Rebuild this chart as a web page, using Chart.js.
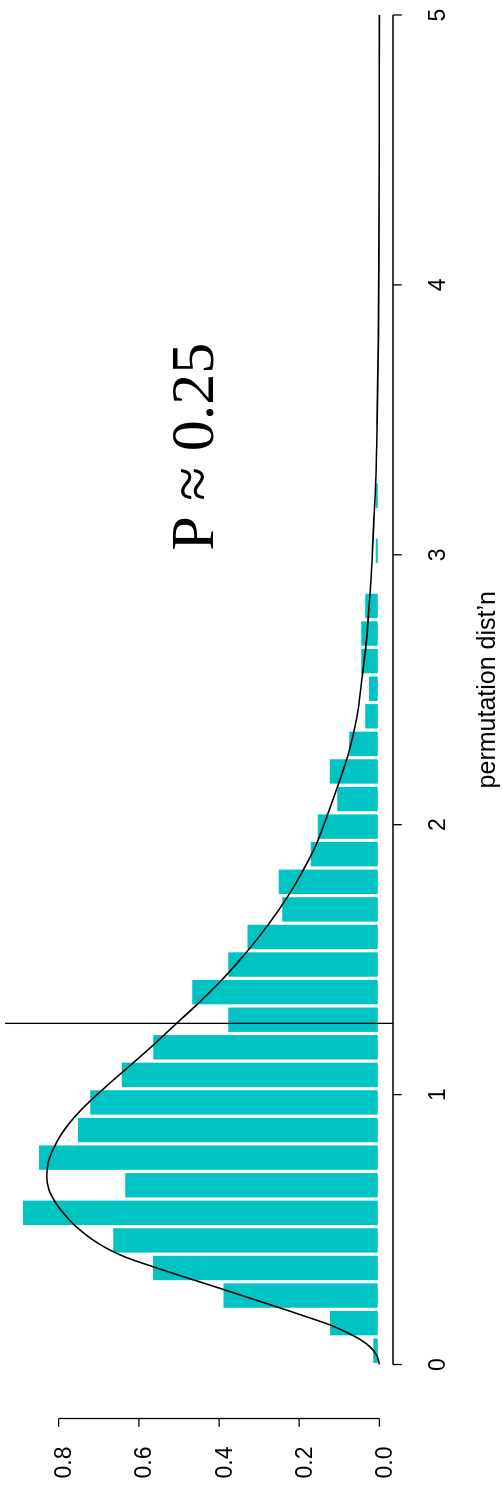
<!DOCTYPE html>
<html>
<head>
<meta charset="utf-8">
<script src="https://cdn.jsdelivr.net/npm/chart.js@4/dist/chart.umd.min.js"></script>
<style>
  html, body { margin: 0; padding: 0; background: #fff; overflow: hidden; width: 503px; height: 1497px; }
  /* the plot is laid out landscape and turned a quarter turn counter-clockwise */
  #frame { position: absolute; left: 0; top: 0; width: 1546px; height: 503px;
           transform-origin: 0 0; transform: translate(0px, 1497px) rotate(-90deg); }
  canvas { display: block; }
</style>
</head>
<body>
<div id="frame"><canvas id="c" width="1546" height="503"></canvas></div>
<script>
// permutation distribution, histogram on the density scale
const binStart = 0;
const binWidth = 0.1022;
const binDensity = [
  0.019, 0.127, 0.393, 0.569, 0.668, 0.893, 0.638, 0.853, 0.756, 0.725,
  0.647, 0.568, 0.381, 0.471, 0.381, 0.333, 0.246, 0.255, 0.175, 0.158,
  0.109, 0.128, 0.079, 0.039, 0.030, 0.049, 0.049, 0.039, 0, 0.013,
  0, 0.013
];

// reference density curve
const curveX = [0, 0.034, 0.065, 0.093, 0.121, 0.146, 0.17, 0.2, 0.278, 0.362,
  0.4, 0.43, 0.46, 0.49, 0.52, 0.56, 0.6, 0.65, 0.7, 0.75,
  0.8, 0.85, 0.9, 0.97, 1.03, 1.1, 1.165, 1.264, 1.338, 1.436,
  1.523, 1.634, 1.745, 1.832, 1.931, 2.029, 2.125, 2.264, 2.4, 2.536,
  2.672, 2.78, 2.906, 3.092, 3.277, 3.5, 3.8, 4.1, 4.5, 5.0];
const curveY = [0, 0.0065, 0.023, 0.048, 0.084, 0.122, 0.168, 0.228, 0.389, 0.564,
  0.637, 0.68, 0.713, 0.74, 0.763, 0.788, 0.808, 0.825, 0.83, 0.826,
  0.813, 0.795, 0.77, 0.726, 0.682, 0.628, 0.578, 0.506, 0.452, 0.386,
  0.334, 0.275, 0.224, 0.19, 0.156, 0.131, 0.108, 0.077, 0.056, 0.044,
  0.033, 0.027, 0.021, 0.015, 0.009, 0.0055, 0.0025, 0.0012, 0.0004, 0.0001];

// observed statistic
const observed = 1.264;

// axes
const valueTicks = [0, 1, 2, 3, 4, 5];
const valueTickLabels = ['0', '1', '2', '3', '4', '5'];
const densityTicks = [0, 0.2, 0.4, 0.6, 0.8];
const densityTickLabels = ['0.0', '0.2', '0.4', '0.6', '0.8'];
const xTitle = 'permutation dist\u2019n';
const pLabel = 'P \u2248 0.25';
const pLabelAt = { x: 3.4, y: 0.414 };

const SANS = '"Liberation Sans", Arial, Helvetica, sans-serif';
const SERIF = '"Liberation Serif", "Times New Roman", Times, serif';

// base-graphics style axes: detached from the plot region, spanning first to last tick
const rAxes = {
  id: 'rAxes',
  afterDatasetsDraw(chart) {
    const { ctx, chartArea, scales: { x, y } } = chart;
    ctx.save();
    ctx.strokeStyle = '#000';
    ctx.fillStyle = '#000';
    ctx.lineWidth = 1.3;
    ctx.lineCap = 'butt';

    // vertical line at the observed value
    const xo = x.getPixelForValue(observed);
    ctx.beginPath();
    ctx.moveTo(xo, chartArea.top);
    ctx.lineTo(xo, chartArea.bottom);
    ctx.stroke();

    // value axis
    const ay = chartArea.bottom;
    ctx.beginPath();
    ctx.moveTo(x.getPixelForValue(valueTicks[0]), ay);
    ctx.lineTo(x.getPixelForValue(valueTicks[valueTicks.length - 1]), ay);
    valueTicks.forEach(v => {
      const px = x.getPixelForValue(v);
      ctx.moveTo(px, ay);
      ctx.lineTo(px, ay + 8.7);
    });
    ctx.stroke();
    ctx.font = '23px ' + SANS;
    ctx.textAlign = 'center';
    ctx.textBaseline = 'alphabetic';
    valueTicks.forEach((v, i) => ctx.fillText(valueTickLabels[i], x.getPixelForValue(v), ay + 51.5));

    // density axis
    const ax = chartArea.left;
    ctx.beginPath();
    ctx.moveTo(ax, y.getPixelForValue(densityTicks[0]));
    ctx.lineTo(ax, y.getPixelForValue(densityTicks[densityTicks.length - 1]));
    densityTicks.forEach(v => {
      const py = y.getPixelForValue(v);
      ctx.moveTo(ax, py);
      ctx.lineTo(ax - 8.3, py);
    });
    ctx.stroke();
    densityTicks.forEach((v, i) => ctx.fillText(densityTickLabels[i], ax - 44, y.getPixelForValue(v) + 12.5));

    // axis title
    ctx.font = '25px ' + SANS;
    ctx.fillText(xTitle, (chartArea.left + chartArea.right) / 2, ay + 102);

    // annotation
    ctx.font = '62px ' + SERIF;
    ctx.fillText(pLabel, x.getPixelForValue(pLabelAt.x), y.getPixelForValue(pLabelAt.y));
    ctx.restore();
  }
};

new Chart(document.getElementById('c'), {
  data: {
    datasets: [
      {
        type: 'bar',
        data: binDensity.map((d, i) => ({ x: binStart + (i + 0.5) * binWidth, y: d })),
        backgroundColor: '#00C3C3',
        borderColor: '#ffffff',
        borderWidth: 1.6,
        borderSkipped: false,
        inflateAmount: 0,
        barPercentage: 1,
        categoryPercentage: 1,
        order: 2
      },
      {
        type: 'line',
        data: curveX.map((v, i) => ({ x: v, y: curveY[i] })),
        borderColor: '#000',
        borderWidth: 1.6,
        pointRadius: 0,
        fill: false,
        cubicInterpolationMode: 'monotone',
        order: 1
      }
    ]
  },
  options: {
    responsive: false,
    animation: false,
    devicePixelRatio: 1,
    layout: { padding: { left: 78.5, right: 10, top: 5, bottom: 110 } },
    plugins: { legend: { display: false }, tooltip: { enabled: false } },
    scales: {
      x: { type: 'linear', min: -0.2, max: 5.2, offset: false, display: false, ticks: { stepSize: 1 } },
      y: { type: 'linear', min: -0.034, max: 0.934, offset: false, display: false }
    }
  },
  plugins: [rAxes]
});
</script>
</body>
</html>
